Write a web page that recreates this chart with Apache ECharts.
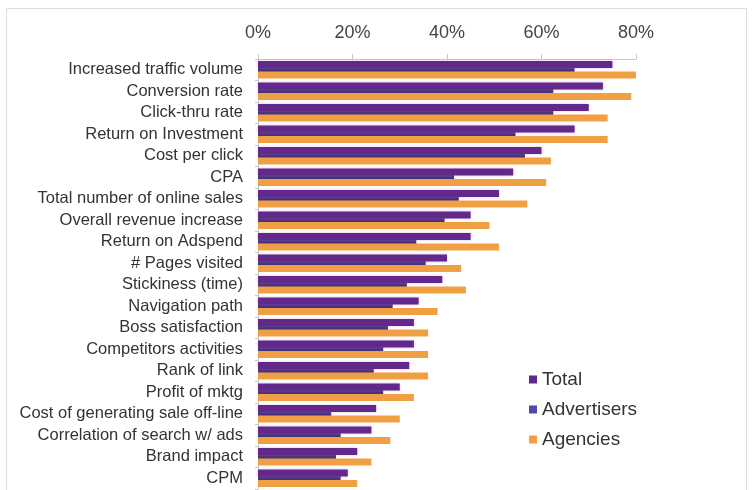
<!DOCTYPE html>
<html>
<head>
<meta charset="utf-8">
<script src="https://cdn.jsdelivr.net/npm/echarts@6/dist/echarts.min.js"></script>
<style>
  html, body { margin: 0; padding: 0; background: #fff; }
  #chart { width: 752px; height: 490px; }
</style>
</head>
<body>
<div id="chart"></div>
<script>
// Metrics used to judge online ad campaigns (share of respondents, %)
const categories = [
  'Increased traffic volume', 'Conversion rate', 'Click-thru rate', 'Return on Investment',
  'Cost per click', 'CPA', 'Total number of online sales', 'Overall revenue increase',
  'Return on Adspend', '# Pages visited', 'Stickiness (time)', 'Navigation path',
  'Boss satisfaction', 'Competitors activities', 'Rank of link', 'Profit of mktg',
  'Cost of generating sale off-line', 'Correlation of search w/ ads', 'Brand impact', 'CPM'
];
const totalValues       = [75, 73, 70, 67, 60, 54, 51, 45, 45, 40, 39, 34, 33, 33, 32, 30, 25, 24, 21, 19];
const advertiserValues  = [67, 62.5, 62.5, 54.5, 56.5, 41.5, 42.5, 39.5, 33.5, 35.5, 31.5, 28.5, 27.5, 26.5, 24.5, 26.5, 15.5, 17.5, 16.5, 17.5];
const agencyValues      = [80, 79, 74, 74, 62, 61, 57, 49, 51, 43, 44, 38, 36, 36, 36, 33, 30, 28, 24, 21];
const xTicks = [0, 20, 40, 60, 80];

const chart = echarts.init(document.getElementById('chart'), null, { renderer: 'canvas' });
const font = 'Liberation Sans, Arial, sans-serif';

chart.setOption({
  backgroundColor: '#fff',
  animation: false,
  graphic: [{
    type: 'rect',
    shape: { x: 6.5, y: 8.5, width: 740, height: 520 },
    style: { fill: 'none', stroke: '#dcdcdc', lineWidth: 1 },
    z: -1
  }],
  grid: { left: 258, top: 59, width: 378, height: 430, containLabel: false },
  legend: {
    orient: 'vertical',
    left: 524,
    top: 365,
    itemWidth: 8,
    itemHeight: 8,
    itemGap: 11,
    icon: 'rect',
    textStyle: { fontFamily: font, fontSize: 19, color: '#333' },
    data: [
      { name: 'Total' },
      { name: 'Advertisers', itemStyle: { color: '#4d4aa8' } },
      { name: 'Agencies' }
    ]
  },
  xAxis: {
    type: 'value',
    position: 'top',
    min: xTicks[0],
    max: xTicks[xTicks.length - 1],
    interval: 20,
    splitLine: { show: false },
    axisLine: { show: true, lineStyle: { color: '#c8c8c8' } },
    axisTick: { show: true, length: 5, lineStyle: { color: '#c8c8c8' } },
    axisLabel: {
      margin: 17,
      fontFamily: font,
      fontSize: 18,
      color: '#444',
      formatter: v => v + '%'
    }
  },
  yAxis: {
    type: 'category',
    inverse: true,
    data: categories,
    axisLine: { show: true, lineStyle: { color: '#c8c8c8' } },
    axisTick: { show: true, length: 3, lineStyle: { color: '#c8c8c8' } },
    axisLabel: { interval: 0, margin: 15, fontFamily: font, fontSize: 16.5, color: '#333' }
  },
  series: [
    {
      name: 'Total',
      type: 'bar',
      data: totalValues,
      barWidth: 7,
      barGap: '-25%',
      z: 3,
      itemStyle: {
        color: '#62298a',
        shadowColor: 'rgba(200,130,210,0.55)',
        shadowBlur: 3
      }
    },
    {
      name: 'Advertisers',
      type: 'bar',
      data: advertiserValues,
      barWidth: 7,
      barGap: '-25%',
      z: 1,
      itemStyle: { color: '#45307e' }
    },
    {
      name: 'Agencies',
      type: 'bar',
      data: agencyValues,
      barWidth: 7,
      barGap: '-25%',
      z: 3,
      itemStyle: { color: '#f0a042' }
    }
  ]
});
</script>
</body>
</html>
